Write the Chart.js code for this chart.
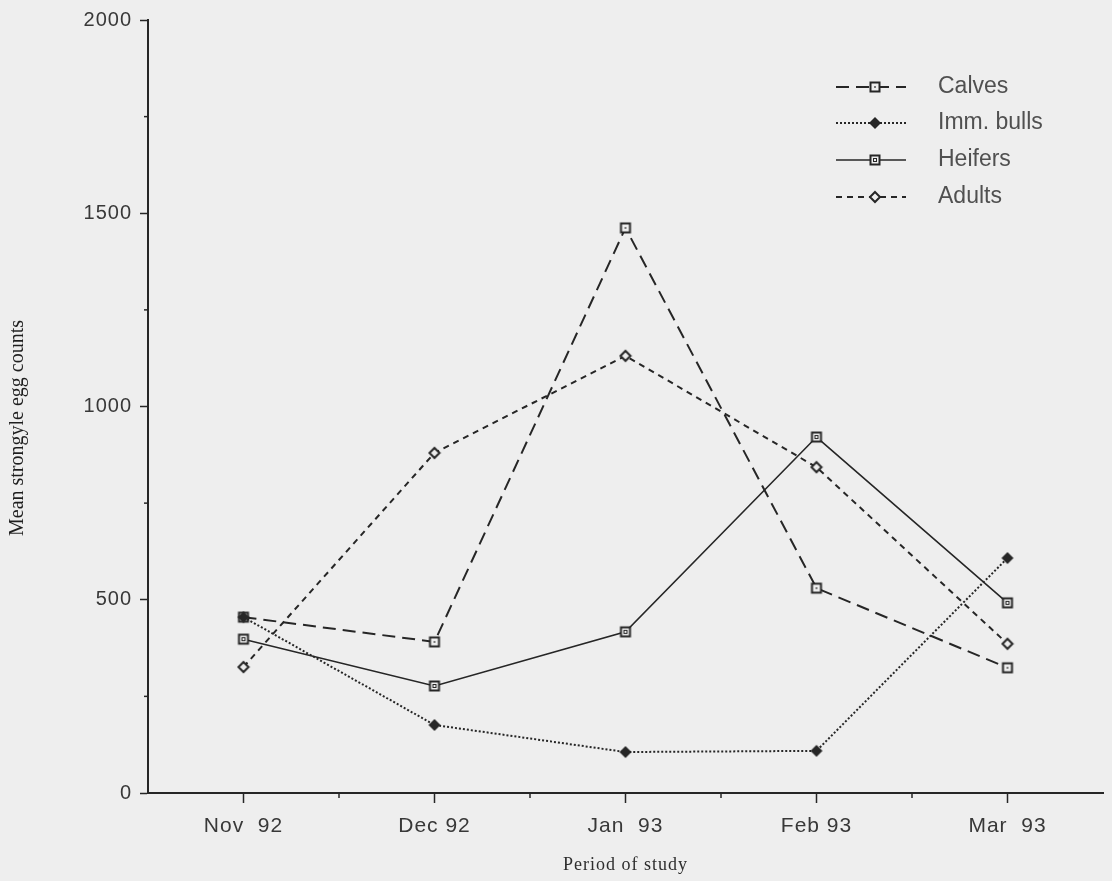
<!DOCTYPE html>
<html>
<head>
<meta charset="utf-8">
<script src="https://cdn.jsdelivr.net/npm/chart.js@4/dist/chart.umd.min.js"></script>
<style>
  html, body { margin: 0; padding: 0; background: #eeeeee; }
  #wrap { width: 1112px; height: 881px; position: relative; }
</style>
</head>
<body>
<div id="wrap"><canvas id="eggCounts"></canvas></div>
<script>
// values
const months = ['Nov  92', 'Dec 92', 'Jan  93', 'Feb 93', 'Mar  93'];
const calves = [455, 391, 1462, 530, 324];
const immBulls = [455, 176, 106, 109, 608];
const heifers = [398, 277, 417, 921, 492];
const adults = [326, 880, 1131, 843, 386];
const yMajorTicks = [0, 500, 1000, 1500, 2000];
const yMinorTicks = [250, 750, 1250, 1750];

const ink = '#262626';
const paper = '#eeeeee';

// little canvases used as point markers
function marker(kind) {
    const c = document.createElement('canvas');
    c.width = 14; c.height = 14;
    const g = c.getContext('2d');
    g.strokeStyle = ink; g.fillStyle = ink;
    if (kind === 'squareDot') {
        g.fillStyle = paper; g.fillRect(2, 2, 10, 10);
        g.lineWidth = 2; g.strokeRect(2.5, 2.5, 9, 9);
        g.fillStyle = '#777'; g.fillRect(6, 6, 2, 2);
    } else if (kind === 'squareDouble') {
        g.fillStyle = paper; g.fillRect(2, 2, 10, 10);
        g.lineWidth = 2; g.strokeRect(2.5, 2.5, 9, 9);
        g.lineWidth = 1; g.strokeRect(5.5, 5.5, 3, 3);
    } else if (kind === 'diamondFilled') {
        g.beginPath(); g.moveTo(7, 1); g.lineTo(13, 7); g.lineTo(7, 13); g.lineTo(1, 7); g.closePath(); g.fill();
    } else {
        g.fillStyle = paper;
        g.beginPath(); g.moveTo(7, 2); g.lineTo(12, 7); g.lineTo(7, 12); g.lineTo(2, 7); g.closePath();
        g.fill(); g.lineWidth = 2; g.stroke();
    }
    return c;
}

const legendRows = [87, 123, 160, 197];

const extras = {
    id: 'extras',
    beforeDraw(chart) {
        // the scanned figure has loosely spaced type
        chart.ctx.letterSpacing = '1px';
    },
    beforeDatasetsDraw(chart) {
        chart.ctx.letterSpacing = '0px';
    },
    afterDraw(chart) {
        const ctx = chart.ctx;
        const x = chart.scales.x, y = chart.scales.y;
        ctx.save();
        ctx.strokeStyle = ink;
        ctx.lineWidth = 1.5;
        // short minor ticks on both axes
        yMinorTicks.forEach(v => {
            const py = y.getPixelForValue(v);
            ctx.beginPath(); ctx.moveTo(x.left - 4, py); ctx.lineTo(x.left, py); ctx.stroke();
        });
        for (let i = 0; i < months.length - 1; i++) {
            const px = (x.getPixelForValue(i) + x.getPixelForValue(i + 1)) / 2;
            ctx.beginPath(); ctx.moveTo(px, y.bottom); ctx.lineTo(px, y.bottom + 5); ctx.stroke();
        }
        // y axis title, sits a little below the middle of the axis in the figure
        ctx.save();
        ctx.translate(18, 428);
        ctx.rotate(-Math.PI / 2);
        ctx.font = '20px "Liberation Serif", "Times New Roman", serif';
        ctx.fillStyle = '#1e1e1e';
        ctx.textAlign = 'center';
        ctx.textBaseline = 'middle';
        ctx.fillText('Mean strongyle egg counts', 0, 0);
        ctx.restore();
        // legend: line sample + marker + label
        chart.data.datasets.forEach((ds, i) => {
            const ly = legendRows[i];
            ctx.setLineDash(ds.borderDash || []);
            ctx.lineWidth = ds.borderWidth;
            ctx.beginPath(); ctx.moveTo(836, ly); ctx.lineTo(906, ly); ctx.stroke();
            ctx.setLineDash([]);
            const m = ds.pointStyle;
            ctx.drawImage(m, 875 - m.width / 2, ly - m.height / 2);
            ctx.fillStyle = '#505050';
            ctx.font = '23px "Liberation Sans", Arial, sans-serif';
            ctx.textBaseline = 'middle';
            ctx.fillText(ds.label, 938, ly);
        });
        ctx.restore();
    }
};

const line = (label, data, dash, width, style, order) => ({
    label, data, order,
    borderColor: ink,
    borderWidth: width,
    borderDash: dash,
    pointStyle: marker(style),
    pointRadius: 7,
    tension: 0,
    fill: false
});

new Chart(document.getElementById('eggCounts').getContext('2d'), {
    type: 'line',
    data: {
        labels: months,
        datasets: [
            line('Calves', calves, [13, 7], 2, 'squareDot', 0),
            line('Imm. bulls', immBulls, [2, 2], 2, 'diamondFilled', -1),
            line('Heifers', heifers, [], 1.6, 'squareDouble', 0),
            line('Adults', adults, [6, 5], 2, 'diamondOpen', 0)
        ]
    },
    options: {
        responsive: true,
        maintainAspectRatio: false,
        animation: false,
        layout: { padding: { top: 19, right: 7, left: 0, bottom: 0 } },
        plugins: { legend: { display: false }, tooltip: { enabled: false } },
        scales: {
            x: {
                type: 'category',
                offset: true,
                afterFit: (s) => { s.height = 88; },
                grid: { drawOnChartArea: false, offset: false, tickLength: 10, tickColor: ink, tickWidth: 1.5 },
                border: { color: ink, width: 2 },
                ticks: { color: '#383838', padding: 11, font: { family: '"Liberation Sans", Arial, sans-serif', size: 21 } },
                title: {
                    display: true, text: 'Period of study', color: '#2e2e2e',
                    padding: { top: 0, bottom: 5 },
                    font: { family: '"Liberation Serif", "Times New Roman", serif', size: 18 }
                }
            },
            y: {
                min: 0, max: 2000,
                afterFit: (s) => { s.width = 148; },
                afterBuildTicks: (s) => { s.ticks = yMajorTicks.map(v => ({ value: v })); },
                grid: { drawOnChartArea: false, tickLength: 8, tickColor: ink, tickWidth: 1.5 },
                border: { color: ink, width: 2 },
                ticks: {
                    color: '#383838', padding: 8,
                    callback: (v) => String(v),
                    font: { family: '"Liberation Sans", Arial, sans-serif', size: 20 }
                }
            }
        }
    },
    plugins: [extras]
});
</script>
</body>
</html>
